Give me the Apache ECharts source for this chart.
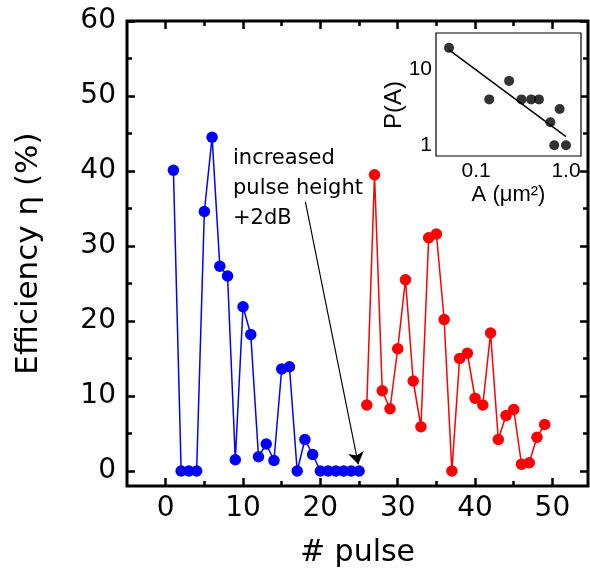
<!DOCTYPE html>
<html>
<head>
<meta charset="utf-8">
<script src="https://cdn.jsdelivr.net/npm/echarts@6/dist/echarts.min.js"></script>
<style>
html,body{margin:0;padding:0;background:#fff;}
#chart{width:590px;height:573px;}
</style>
</head>
<body>
<div id="chart"></div>
<script>
// ---- main chart data ----
const bluePulse = [1,2,3,4,5,6,7,8,9,10,11,12,13,14,15,16,17,18,19,20,21,22,23,24,25];
const blueEff   = [40.1,0,0,0,34.6,44.5,27.3,26.0,1.5,21.9,18.2,1.9,3.6,1.4,13.6,13.9,0,4.2,2.2,0,0,0,0,0,0];
const redPulse  = [26,27,28,29,30,31,32,33,34,35,36,37,38,39,40,41,42,43,44,45,46,47,48,49];
const redEff    = [8.8,39.5,10.7,8.3,16.3,25.5,12.0,5.9,31.1,31.6,20.2,0,15.0,15.7,9.7,8.8,18.4,4.2,7.4,8.2,0.9,1.1,4.5,6.2];
const xMajorTicks = [0,10,20,30,40,50];
const xMinorTicks = [5,15,25,35,45];
const yMajorTicks = [0,10,20,30,40,50,60];
const yMinorTicks = [5,15,25,35,45,55];
// arrow annotation (data coords): start, end
const arrowStart = [18.06, 35.9];
const arrowEnd   = [24.9, 0.9];
const annotationText = ['increased','pulse height','+2dB'];

// ---- inset data ----
const insetA = [0.05,0.14,0.233,0.32,0.41,0.50,0.67,0.85,0.74,1.0];
const insetP = [19,4,7,4,4,4,2,3,1,1];
const fitA = [0.05,1.0];
const fitP = [17.9,1.3];
const insetXMajor = [0.1,1.0];
const insetXMajorLabels = ['0.1','1.0'];
const insetXMinor = [0.04,0.05,0.06,0.07,0.08,0.09,0.2,0.3,0.4,0.5,0.6,0.7,0.8,0.9];
const insetYMajor = [1,10];
const insetYMajorLabels = ['1','10'];
const insetYMinor = [0.8,0.9,2,3,4,5,6,7,8,9,20];

const L = Math.log10;
const MAINFONT = '"DejaVu Sans", sans-serif';
const INFONT = '"Liberation Sans", Arial, sans-serif';

function ax(grid, pos, min, max, ticks, len, width, labelOpt, extra) {
  const a = Object.assign({
    type: 'value', gridIndex: grid, position: pos, min: min, max: max,
    axisLine: {show: false, onZero: false},
    splitLine: {show: false},
    axisTick: {show: true, inside: true, length: len, customValues: ticks,
               lineStyle: {color: '#000', width: width}},
    axisLabel: labelOpt ? labelOpt : {show: false}
  }, extra || {});
  return a;
}

const xMin = -5, xMax = 54.6, yMin = -2, yMax = 60;
const ixMin = -1.446, ixMax = 0.167, iyMin = -0.141, iyMax = 1.474;

const mainXLabel = {show: true, customValues: xMajorTicks, color: '#000',
  fontFamily: MAINFONT, fontSize: 28, margin: 9};
const mainYLabel = {show: true, customValues: yMajorTicks, color: '#000',
  fontFamily: MAINFONT, fontSize: 28, margin: 11};
const inXLabel = {show: true, customValues: insetXMajor.map(L), color: '#000',
  fontFamily: INFONT, fontSize: 21, margin: 5,
  formatter: v => insetXMajorLabels[insetXMajor.map(L).findIndex(t => Math.abs(t - v) < 1e-6)]};
const inYLabel = {show: true, customValues: insetYMajor.map(L), color: '#000',
  fontFamily: INFONT, fontSize: 21, margin: 4,
  formatter: v => insetYMajorLabels[insetYMajor.map(L).findIndex(t => Math.abs(t - v) < 1e-6)]};

const xAxes = [
  ax(0,'bottom',xMin,xMax,xMajorTicks,8,2.5,mainXLabel,{name:'# pulse', nameLocation:'middle', nameGap:52,
     nameTextStyle:{color:'#000', fontFamily:MAINFONT, fontSize:30}}),
  ax(0,'bottom',xMin,xMax,xMinorTicks,5,2.5),
  ax(0,'top',xMin,xMax,xMajorTicks,8,2.5),
  ax(0,'top',xMin,xMax,xMinorTicks,5,2.5),
  ax(1,'bottom',ixMin,ixMax,insetXMajor.map(L),5,1,inXLabel,{name:'A (μm²)', nameLocation:'middle', nameGap:28,
     nameTextStyle:{color:'#000', fontFamily:INFONT, fontSize:22}}),
  ax(1,'bottom',ixMin,ixMax,insetXMinor.map(L),3,1),
  ax(1,'top',ixMin,ixMax,insetXMajor.map(L),5,1),
  ax(1,'top',ixMin,ixMax,insetXMinor.map(L),3,1)
];
const yAxes = [
  ax(0,'left',yMin,yMax,yMajorTicks,8,2.5,mainYLabel,{name:'Efficiency η (%)', nameLocation:'middle', nameGap:83,
     nameTextStyle:{color:'#000', fontFamily:MAINFONT, fontSize:31}}),
  ax(0,'left',yMin,yMax,yMinorTicks,5,2.5),
  ax(0,'right',yMin,yMax,yMajorTicks,8,2.5),
  ax(0,'right',yMin,yMax,yMinorTicks,5,2.5),
  ax(1,'left',iyMin,iyMax,insetYMajor.map(L),5,1,inYLabel),
  ax(1,'left',iyMin,iyMax,insetYMinor.map(L),3,1),
  ax(1,'right',iyMin,iyMax,insetYMajor.map(L),5,1),
  ax(1,'right',iyMin,iyMax,insetYMinor.map(L),3,1)
];

const option = {
  backgroundColor: '#fff',
  animation: false,
  grid: [
    {left: 127, top: 21, right: 2, bottom: 86.5, show: true, borderWidth: 3, borderColor: '#000', backgroundColor: 'transparent'},
    {left: 436, top: 33, width: 145, height: 123, show: true, borderWidth: 1.2, borderColor: '#000', backgroundColor: '#fff', z: 3}
  ],
  xAxis: xAxes,
  yAxis: yAxes,
  graphic: [
    {type: 'text', left: 233, top: 144, z: 10,
     style: {text: annotationText.join('\n'), font: '21px ' + MAINFONT, fill: '#000', lineHeight: 30}},
    {type: 'text', x: 394, y: 105, rotation: Math.PI / 2, z: 10,
     style: {text: 'P(A)', font: '24px ' + INFONT, fill: '#000', align: 'center', verticalAlign: 'middle'}}
  ],
  series: [
    {type: 'line', xAxisIndex: 0, yAxisIndex: 0, z: 3,
     data: bluePulse.map((p, i) => [p, blueEff[i]]),
     symbol: 'circle', symbolSize: 11.5, showSymbol: true,
     itemStyle: {color: '#0000ff'}, lineStyle: {color: '#0000ff', width: 1.5}},
    {type: 'line', xAxisIndex: 0, yAxisIndex: 0, z: 3,
     data: redPulse.map((p, i) => [p, redEff[i]]),
     symbol: 'circle', symbolSize: 11.5, showSymbol: true,
     itemStyle: {color: '#ff0000'}, lineStyle: {color: '#ff0000', width: 1.5}},
    {type: 'lines', coordinateSystem: 'cartesian2d', xAxisIndex: 0, yAxisIndex: 0, z: 10,
     silent: true,
     symbol: ['none', 'arrow'], symbolSize: 12,
     lineStyle: {color: '#000', width: 1.2, opacity: 1},
     data: [{coords: [arrowStart, arrowEnd]}]},
    {type: 'line', xAxisIndex: 4, yAxisIndex: 4, z: 5,
     data: fitA.map((a, i) => [L(a), L(fitP[i])]),
     symbol: 'none', lineStyle: {color: '#000', width: 1.5}},
    {type: 'scatter', xAxisIndex: 4, yAxisIndex: 4, z: 6,
     data: insetA.map((a, i) => [L(a), L(insetP[i])]),
     symbol: 'circle', symbolSize: 10, itemStyle: {color: '#000'}}
  ]
};
const chart = echarts.init(document.getElementById('chart'), null, {renderer: 'canvas'});
chart.setOption(option);
</script>
</body>
</html>
